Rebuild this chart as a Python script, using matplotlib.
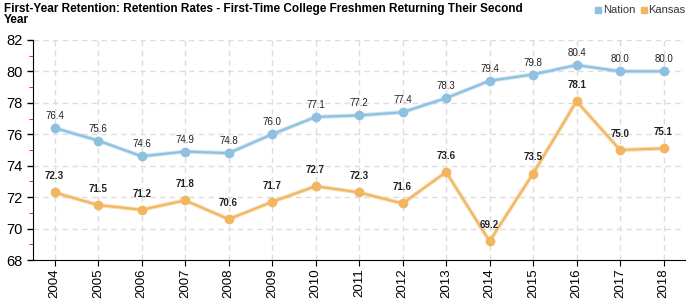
import matplotlib
matplotlib.use('Agg')
import matplotlib.pyplot as plt
from matplotlib.ticker import MultipleLocator

years = [2004, 2005, 2006, 2007, 2008, 2009, 2010, 2011, 2012, 2013, 2014, 2015, 2016, 2017, 2018]
nation = [76.4, 75.6, 74.6, 74.9, 74.8, 76.0, 77.1, 77.2, 77.4, 78.3, 79.4, 79.8, 80.4, 80.0, 80.0]
kansas = [72.3, 71.5, 71.2, 71.8, 70.6, 71.7, 72.7, 72.3, 71.6, 73.6, 69.2, 73.5, 78.1, 75.0, 75.1]

blue = '#8ec0e0'
orange = '#f2b660'

plt.rcParams['font.family'] = ['Liberation Sans', 'DejaVu Sans']

fig = plt.figure(figsize=(7, 3), dpi=100)
ax = fig.add_axes([0.047, 0.133, 0.932, 0.734])

ax.plot(years, nation, color=blue, lw=3, alpha=0.45, zorder=2)
ax.plot(years, nation, color=blue, lw=1.5, marker='o', ms=6, zorder=3)
ax.plot(years, kansas, color=orange, lw=3, alpha=0.45, zorder=2)
ax.plot(years, kansas, color=orange, lw=1.5, marker='o', ms=6, zorder=3)

for x, v in zip(years, nation):
    ax.annotate(f'{v:.1f}', (x, v), xytext=(0, 5), textcoords='offset points',
                ha='center', va='bottom', fontsize=7, color='#222222')
for x, v in zip(years, kansas):
    ax.annotate(f'{v:.1f}', (x, v), xytext=(0, 8), textcoords='offset points',
                ha='center', va='bottom', fontsize=7, fontweight='bold', color='#222222')

ax.set_xlim(2003.5, 2018.5)
ax.set_ylim(68, 82)
ax.set_xticks(years)
ax.set_xticklabels([str(y) for y in years], rotation=90, fontsize=9.5)
ax.yaxis.set_major_locator(MultipleLocator(2))
ax.yaxis.set_minor_locator(MultipleLocator(1))
ax.tick_params(axis='y', which='major', labelsize=10.5, length=4, width=1)
ax.tick_params(axis='y', which='minor', length=3, color='red')
ax.tick_params(axis='x', length=4, pad=2)
ax.grid(True, which='major', color='#dddddd', linestyle=(0, (4, 3)), lw=1)
for s in ['top', 'right']:
    ax.spines[s].set_visible(False)
ax.set_axisbelow(True)

fig.text(0.006, 0.99, 'First-Year Retention: Retention Rates - First-Time College Freshmen Returning Their Second\nYear',
         ha='left', va='top', fontsize=8.5, fontweight='bold', linespacing=0.85)

fig.patches.append(plt.Rectangle((595 / 700, 0.958), 0.009, 0.02, color=blue, transform=fig.transFigure))
fig.text(603 / 700, 0.968, 'Nation', ha='left', va='center', fontsize=8, color='#333333')
fig.patches.append(plt.Rectangle((641 / 700, 0.958), 0.009, 0.02, color=orange, transform=fig.transFigure))
fig.text(648 / 700, 0.968, 'Kansas', ha='left', va='center', fontsize=8, color='#333333')

fig.savefig('out.png', dpi=100)
